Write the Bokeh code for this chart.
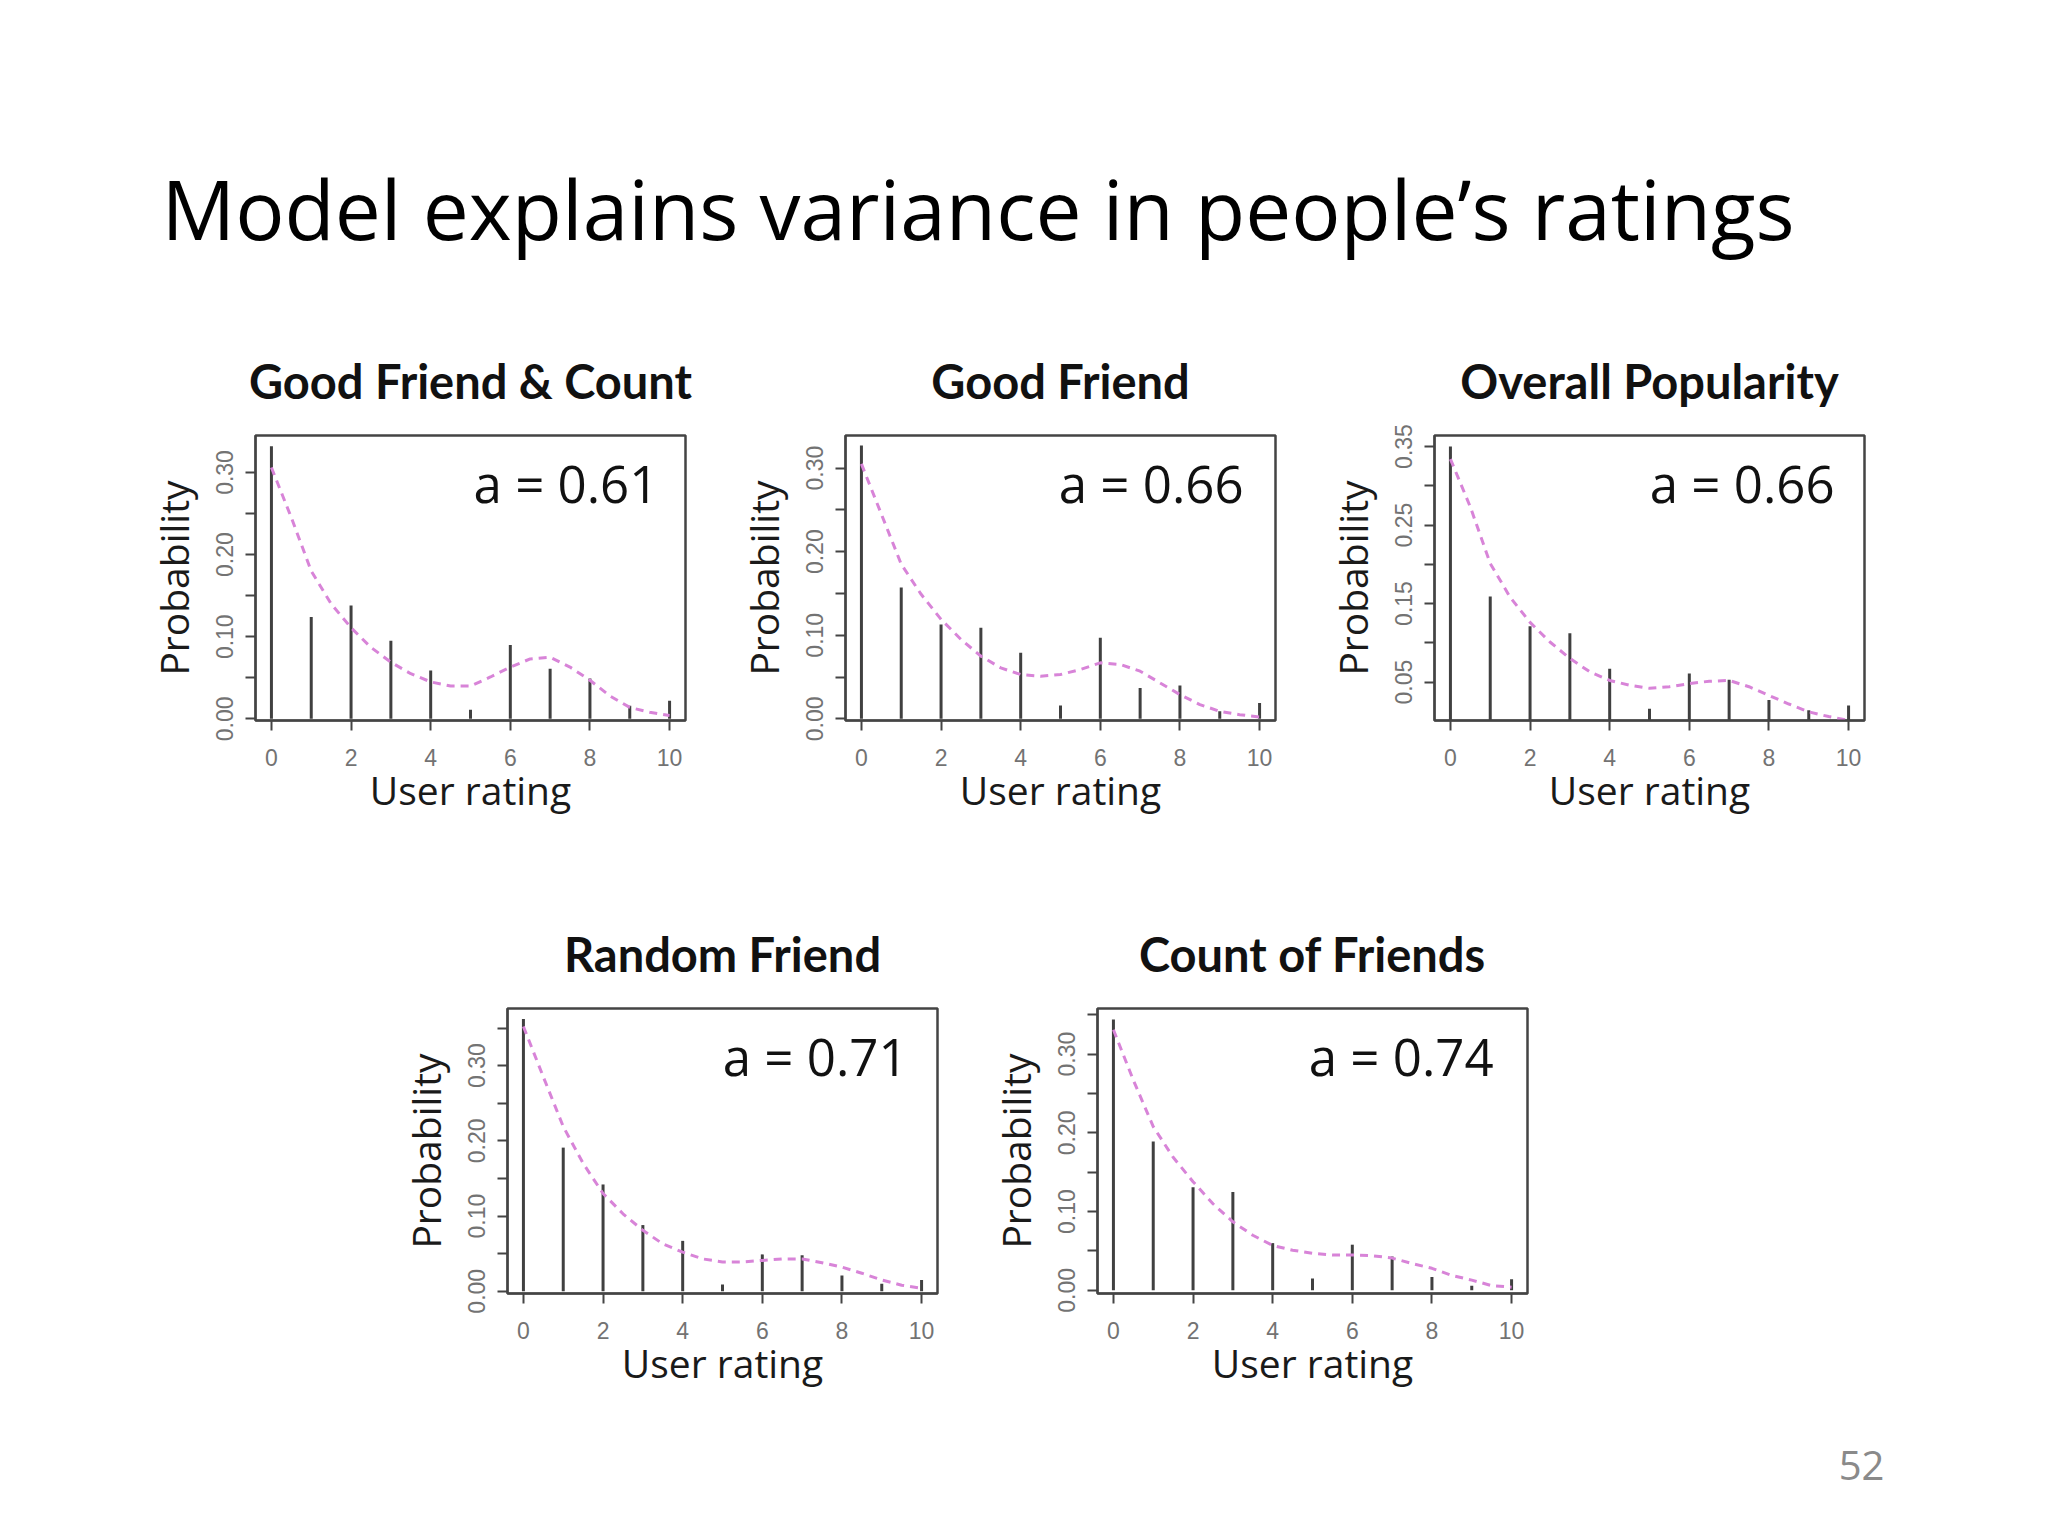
from bokeh.plotting import figure
from bokeh.models import Range1d, FixedTicker, NumeralTickFormatter, Label, Spacer
from bokeh.layouts import row, column
from bokeh.embed import file_html
from bokeh.resources import INLINE

# ---------------- data ----------------
slide_title = "Model explains variance in people\u2019s ratings"
page_number = "52"

ratings = [0, 1, 2, 3, 4, 5, 6, 7, 8, 9, 10]
x_tick_values = [0, 2, 4, 6, 8, 10]
curve_x = [0, 0.5, 1, 1.5, 2, 2.5, 3, 3.5, 4, 4.5, 5, 5.5, 6, 6.5, 7, 7.5, 8, 8.5, 9, 9.5, 10]

panel_titles = ["Good Friend & Count", "Good Friend", "Overall Popularity", "Random Friend", "Count of Friends"]
a_labels = ["a = 0.61", "a = 0.66", "a = 0.66", "a = 0.71", "a = 0.74"]

# observed probabilities (vertical lines)
obs_good_friend_count = [0.332, 0.124, 0.138, 0.095, 0.059, 0.011, 0.090, 0.061, 0.049, 0.016, 0.022]
obs_good_friend = [0.327, 0.157, 0.113, 0.109, 0.079, 0.016, 0.097, 0.037, 0.040, 0.009, 0.019]
obs_overall_popularity = [0.350, 0.159, 0.121, 0.112, 0.067, 0.016, 0.061, 0.053, 0.027, 0.014, 0.020]
obs_random_friend = [0.362, 0.191, 0.142, 0.088, 0.067, 0.009, 0.049, 0.048, 0.021, 0.010, 0.015]
obs_count_of_friends = [0.344, 0.189, 0.131, 0.125, 0.060, 0.015, 0.058, 0.043, 0.017, 0.006, 0.014]

# model curves (dashed)
model_good_friend_count = [0.306, 0.245, 0.180, 0.140, 0.111, 0.087, 0.069, 0.055, 0.045, 0.040, 0.040,
                           0.051, 0.063, 0.073, 0.075, 0.063, 0.047, 0.028, 0.014, 0.008, 0.004]
model_good_friend = [0.305, 0.245, 0.185, 0.149, 0.119, 0.095, 0.075, 0.061, 0.053, 0.051, 0.053,
                     0.059, 0.067, 0.065, 0.057, 0.043, 0.029, 0.017, 0.009, 0.005, 0.002]
model_overall_popularity = [0.334, 0.273, 0.201, 0.158, 0.126, 0.101, 0.080, 0.063, 0.052, 0.046, 0.042,
                            0.044, 0.048, 0.051, 0.052, 0.044, 0.033, 0.022, 0.012, 0.006, 0.001]
model_random_friend = [0.352, 0.285, 0.219, 0.170, 0.130, 0.103, 0.081, 0.063, 0.052, 0.043, 0.039,
                       0.039, 0.041, 0.043, 0.043, 0.038, 0.032, 0.024, 0.015, 0.008, 0.004]
model_count_of_friends = [0.331, 0.267, 0.208, 0.169, 0.138, 0.110, 0.087, 0.070, 0.057, 0.051, 0.047,
                          0.045, 0.045, 0.044, 0.041, 0.034, 0.028, 0.019, 0.013, 0.006, 0.004]

# y-axis ranges and ticks
y_ranges = [(-0.002, 0.345), (-0.002, 0.339), (0.001, 0.364), (-0.003, 0.376), (-0.004, 0.358)]
y_major = [[0.0, 0.1, 0.2, 0.3], [0.0, 0.1, 0.2, 0.3], [0.05, 0.15, 0.25, 0.35],
           [0.0, 0.1, 0.2, 0.3], [0.0, 0.1, 0.2, 0.3]]
y_minor = [[0.05, 0.15, 0.25], [0.05, 0.15, 0.25], [0.10, 0.20, 0.30],
           [0.05, 0.15, 0.25, 0.35], [0.05, 0.15, 0.25, 0.35]]

observed = [obs_good_friend_count, obs_good_friend, obs_overall_popularity, obs_random_friend, obs_count_of_friends]
models = [model_good_friend_count, model_good_friend, model_overall_popularity, model_random_friend, model_count_of_friends]

# ---------------- styling / layout ----------------
FRAME_W, FRAME_H = 430, 286
B_LEFT, B_RIGHT, B_TOP, B_BOTTOM = 120, 10, 110, 100
FIG_W = B_LEFT + FRAME_W + B_RIGHT
FIG_H = B_TOP + FRAME_H + B_BOTTOM
a_label_right = [9.72, 9.6, 9.65, 9.65, 9.55]

AXIS_COL = "#444444"
TICK_COL = "#737373"
CURVE_COL = "#d884d8"


def make_panel(i):
    y0, y1 = y_ranges[i]
    p = figure(width=FIG_W, height=FIG_H, x_range=Range1d(-0.4, 10.4), y_range=Range1d(y0, y1),
               output_backend="svg", toolbar_location=None,
               min_border_left=B_LEFT, min_border_right=B_RIGHT,
               min_border_top=B_TOP, min_border_bottom=B_BOTTOM)
    p.title.text = panel_titles[i]
    p.title.align = "center"
    p.title.text_font = "Lato"
    p.title.text_font_style = "bold"
    p.title.text_font_size = "47px"
    p.title.text_color = "#111111"
    p.title.standoff = 53

    p.grid.visible = False
    p.outline_line_color = AXIS_COL
    p.outline_line_width = 2.5
    p.outline_line_alpha = 1.0
    p.background_fill_color = "white"
    p.border_fill_color = "white"

    for ax in (p.xaxis[0], p.yaxis[0]):
        ax.axis_line_color = AXIS_COL
        ax.axis_line_width = 2
        ax.major_tick_line_color = AXIS_COL
        ax.minor_tick_line_color = AXIS_COL
        ax.major_tick_line_width = 2
        ax.minor_tick_line_width = 2
        ax.major_tick_out = 10
        ax.major_tick_in = 0
        ax.minor_tick_out = 10
        ax.minor_tick_in = 0
        ax.major_label_text_font = "Liberation Sans"
        ax.major_label_text_font_size = "23px"
        ax.major_label_text_color = TICK_COL
        ax.axis_label_text_font = "Open Sans"
        ax.axis_label_text_font_size = "39px"
        ax.axis_label_text_font_style = "normal"
        ax.axis_label_text_color = "#1a1a1a"

    p.xaxis.ticker = FixedTicker(ticks=x_tick_values, minor_ticks=[])
    p.xaxis.major_label_standoff = 18
    p.xaxis.axis_label = "User rating"
    p.xaxis.axis_label_standoff = -6

    p.yaxis.ticker = FixedTicker(ticks=y_major[i], minor_ticks=y_minor[i])
    p.yaxis.formatter = NumeralTickFormatter(format="0.00")
    p.yaxis.major_label_orientation = "vertical"
    p.yaxis.major_label_standoff = 12
    p.yaxis.axis_label = "Probability"
    p.yaxis.axis_label_standoff = 14

    p.segment(x0=ratings, y0=[0] * len(ratings), x1=ratings, y1=observed[i],
              line_color="#404040", line_width=3)
    p.line(curve_x, models[i], line_color=CURVE_COL, line_dash="8 6", line_width=3)

    ly = y1 - 48 * (y1 - y0) / FRAME_H
    p.add_layout(Label(x=a_label_right[i], y=ly, text=a_labels[i], text_align="right",
                       text_baseline="middle", text_font="Open Sans", text_font_size="51px",
                       text_color="#111111"))
    p.toolbar.logo = None
    return p


def blank(width, height):
    p = figure(width=width, height=height, x_range=Range1d(0, width), y_range=Range1d(0, height),
               output_backend="svg", toolbar_location=None, min_border=0,
               x_axis_type=None, y_axis_type=None)
    p.grid.visible = False
    p.outline_line_color = None
    p.background_fill_color = "white"
    p.border_fill_color = "white"
    return p


PAGE_W = 2030
TOP_H = 324
MID_H = 77
BOT_H = 127

top = blank(PAGE_W, TOP_H)
top.add_layout(Label(x=161, y=117, text=slide_title, text_align="left", text_baseline="alphabetic",
                     text_font="Open Sans", text_font_size="82px", text_color="#000000"))

bottom = blank(PAGE_W, BOT_H)
bottom.add_layout(Label(x=1861, y=55, text=page_number, text_align="center", text_baseline="middle",
                        text_font="Open Sans", text_font_size="40px", text_color="#8a8a8a"))

panels = [make_panel(i) for i in range(5)]

row1 = row(Spacer(width=135, height=FIG_H), panels[0], Spacer(width=30, height=FIG_H), panels[1],
           Spacer(width=29, height=FIG_H), panels[2])
row2 = row(Spacer(width=387, height=FIG_H), panels[3], Spacer(width=30, height=FIG_H), panels[4])

layout = column(top, row1, Spacer(width=PAGE_W, height=MID_H), row2, bottom)

open("out.html", "w").write(file_html(layout, INLINE))
